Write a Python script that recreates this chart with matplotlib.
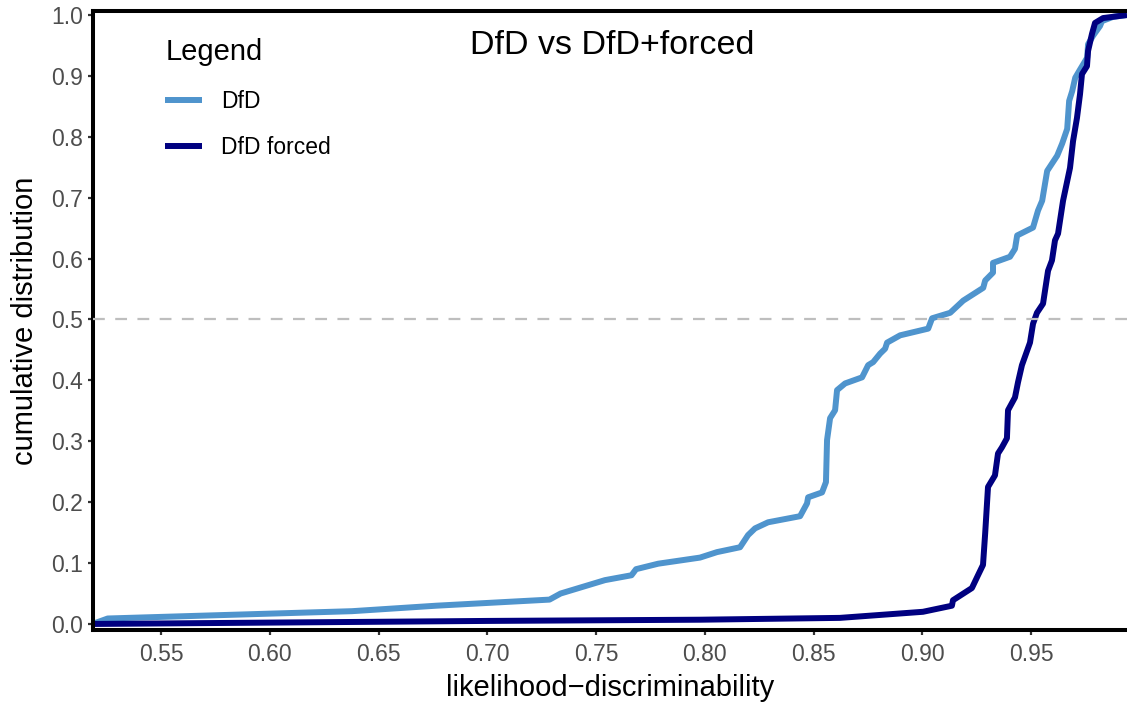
import matplotlib
matplotlib.use("Agg")
import matplotlib.pyplot as plt

plt.rcParams['font.family'] = ['Liberation Sans', 'DejaVu Sans']
plt.rcParams['lines.scale_dashes'] = False

# values
dfd_x = [0.5185, 0.5255, 0.6378, 0.6765, 0.7286, 0.7337, 0.7541, 0.7663, 0.7684,
         0.7786, 0.7978, 0.8056, 0.8162, 0.8199, 0.8231, 0.8291, 0.8438, 0.8470,
         0.8475, 0.8539, 0.8557, 0.8562, 0.8576, 0.8599, 0.8608, 0.8645, 0.8723,
         0.8751, 0.8774, 0.8806, 0.8829, 0.8838, 0.8898, 0.9027, 0.9045, 0.9128,
         0.9188, 0.9280, 0.9289, 0.9325, 0.9325, 0.9403, 0.9426, 0.9436, 0.9509,
         0.9532, 0.9551, 0.9574, 0.9620, 0.9643, 0.9666, 0.9675, 0.9689, 0.9703,
         0.9726, 0.9758, 0.9762, 0.9785, 0.9817, 0.9826, 0.9877, 0.9941]
dfd_y = [0.000, 0.009, 0.021, 0.030, 0.040, 0.050, 0.072, 0.080, 0.090,
         0.099, 0.109, 0.118, 0.126, 0.146, 0.157, 0.167, 0.177, 0.198,
         0.208, 0.216, 0.233, 0.302, 0.338, 0.351, 0.384, 0.395, 0.405,
         0.425, 0.430, 0.444, 0.452, 0.462, 0.474, 0.485, 0.502, 0.511,
         0.531, 0.552, 0.564, 0.577, 0.593, 0.603, 0.616, 0.638, 0.651,
         0.679, 0.695, 0.744, 0.769, 0.789, 0.813, 0.859, 0.875, 0.897,
         0.911, 0.930, 0.952, 0.966, 0.982, 0.990, 0.997, 1.000]

forced_x = [0.5185, 0.7000, 0.7978, 0.8621, 0.9003, 0.9136, 0.9141, 0.9228, 0.9256,
            0.9279, 0.9289, 0.9302, 0.9334, 0.9348, 0.9366, 0.9389, 0.9394, 0.9426,
            0.9440, 0.9458, 0.9495, 0.9509, 0.9527, 0.9555, 0.9578, 0.9596, 0.9610,
            0.9624, 0.9647, 0.9679, 0.9693, 0.9711, 0.9725, 0.9734, 0.9757, 0.9762,
            0.9780, 0.9794, 0.9831, 0.9941]
forced_y = [0.000, 0.005, 0.007, 0.010, 0.020, 0.030, 0.039, 0.059, 0.080,
            0.097, 0.149, 0.225, 0.244, 0.280, 0.290, 0.305, 0.351, 0.372,
            0.397, 0.425, 0.462, 0.493, 0.511, 0.526, 0.580, 0.597, 0.630,
            0.641, 0.695, 0.749, 0.793, 0.831, 0.870, 0.903, 0.916, 0.941,
            0.969, 0.987, 0.995, 1.000]

x_ticks = [0.55, 0.60, 0.65, 0.70, 0.75, 0.80, 0.85, 0.90, 0.95]
y_ticks = [0.0, 0.1, 0.2, 0.3, 0.4, 0.5, 0.6, 0.7, 0.8, 0.9, 1.0]

W, H = 1127, 703
fig = plt.figure(figsize=(W / 100, H / 100), dpi=100)
ax = fig.add_axes([92.5 / W, 73 / H, (W - 92.5) / W, (692 - 73) / H])

ax.axhline(0.5, color='#BEBEBE', lw=1.6, dashes=(8.5, 7.5), zorder=3)
ax.plot(dfd_x, dfd_y, color='#4F94CD', lw=4.3, label='DfD',
        solid_joinstyle='round', solid_capstyle='butt', zorder=2)
ax.plot(forced_x, forced_y, color='#000080', lw=4.3, label='DfD forced',
        solid_joinstyle='round', solid_capstyle='butt', zorder=2.5)

ax.set_xlim(0.5185, 0.9941)
ax.set_ylim(-0.0099, 1.0066)
ax.set_xticks(x_ticks)
ax.set_xticklabels([f'{v:.2f}' for v in x_ticks])
ax.set_yticks(y_ticks)
ax.set_yticklabels([f'{v:.1f}' for v in y_ticks])

for side in ['left', 'bottom', 'top']:
    ax.spines[side].set_linewidth(2.9)
    ax.spines[side].set_color('black')
ax.spines['right'].set_visible(False)
ax.tick_params(axis='both', length=3.6, width=1.6, color='#333333',
               labelcolor='#4D4D4D', labelsize=16.5)
ax.tick_params(axis='x', pad=6)
ax.tick_params(axis='y', pad=3)

ax.set_xlabel('likelihood\u2212discriminability', fontsize=21, labelpad=5.5)
ax.set_ylabel('cumulative distribution', fontsize=21, labelpad=9)

fig.text(612 / W, 1 - 46 / H, 'DfD vs DfD+forced', fontsize=24.5,
         ha='center', va='center')

leg = ax.legend(loc='upper left', bbox_to_anchor=(147 / W, 1 - 20 / H),
                bbox_transform=fig.transFigure, frameon=False,
                title='Legend', fontsize=16.5, title_fontsize=21,
                handlelength=1.6, handletextpad=0.85, labelspacing=1.02,
                alignment='left', borderpad=0.3)

fig.savefig('out.png', dpi=100)
